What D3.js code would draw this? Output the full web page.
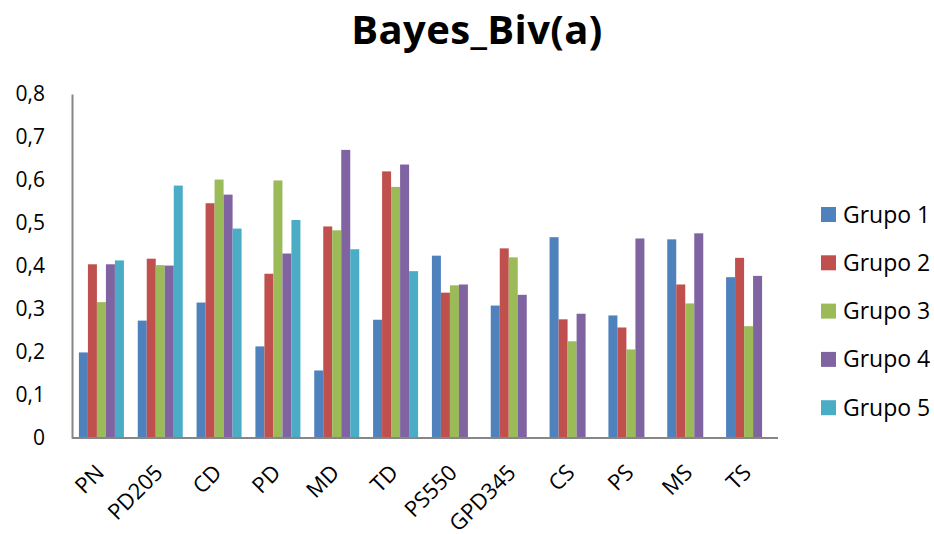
<!DOCTYPE html>
<html><head><meta charset="utf-8">
<script src="https://cdn.jsdelivr.net/npm/d3@7"></script>
<style>body{margin:0;background:#fff}text{font-family:"Open Sans","Noto Sans",sans-serif}</style>
</head><body><svg id="c" width="934" height="534"></svg>
<script>
const categories = ["PN","PD205","CD","PD","MD","TD","PS550","GPD345","CS","PS","MS","TS"];
const seriesNames = ["Grupo 1","Grupo 2","Grupo 3","Grupo 4","Grupo 5"];
const grupo1 = [0.199,0.273,0.315,0.213,0.157,0.275,0.424,0.308,0.467,0.285,0.462,0.374];
const grupo2 = [0.404,0.417,0.546,0.382,0.492,0.620,0.338,0.441,0.276,0.257,0.357,0.419];
const grupo3 = [0.316,0.402,0.601,0.599,0.483,0.584,0.355,0.420,0.225,0.206,0.313,0.260];
const grupo4 = [0.404,0.401,0.566,0.429,0.670,0.636,0.357,0.333,0.289,0.464,0.476,0.377];
const grupo5 = [0.413,0.587,0.487,0.507,0.439,0.388,null,null,null,null,null,null];
const yTicks = [0,0.1,0.2,0.3,0.4,0.5,0.6,0.7,0.8];
const colors = ["#4F81BD","#C0504D","#9BBB59","#8064A2","#4BACC6"];
const allSeries = [grupo1,grupo2,grupo3,grupo4,grupo5];

(function(){
const svg = d3.select("#c");
const mL = 72, mR = 778, mT = 94, mB = 438;
const x = d3.scaleBand().domain(categories).range([mL,mR]).paddingInner(0.235).paddingOuter(0.1175);
const xs = d3.scaleBand().domain(seriesNames).range([0,x.bandwidth()]);
const y = d3.scaleLinear().domain([0,0.8]).range([mB,mT]);

svg.append("text").attr("x",477).attr("y",44).attr("text-anchor","middle")
  .attr("font-size",40).attr("font-weight","bold").attr("letter-spacing",0.4).text("Bayes_Biv(a)");

const g = svg.append("g");
allSeries.forEach((vals,si)=>{
  g.selectAll(null).data(categories.map((c,i)=>({c,v:vals[i]})).filter(d=>d.v!=null))
   .enter().append("rect")
   .attr("x",d=>x(d.c)+xs(seriesNames[si]))
   .attr("width",xs.bandwidth())
   .attr("y",d=>y(d.v)).attr("height",d=>y(0)-y(d.v))
   .attr("fill",colors[si]);
});

const ya = d3.axisLeft(y).tickValues(yTicks).tickSize(0).tickPadding(27)
  .tickFormat(d=>d3.format(".1f")(d).replace(".",",").replace(/^0,0$/,"0"));
const yg = svg.append("g").attr("transform",`translate(${mL},0)`).call(ya);
yg.select(".domain").attr("stroke","#868686").attr("stroke-width",2);
yg.selectAll("text").attr("font-size",21).attr("fill","#000");

const xa = d3.axisBottom(x).tickSize(0).tickPadding(0);
const xg = svg.append("g").attr("transform",`translate(0,${mB})`).call(xa);
xg.select(".domain").attr("stroke","#868686").attr("stroke-width",2).attr("d",`M${mL},0H${mR}`);
xg.selectAll("text").attr("font-size",22).attr("fill","#000")
  .attr("text-anchor","end").attr("dy",null).attr("y",0)
  .attr("transform","translate(4,36) rotate(-45)");

const lg = svg.append("g");
seriesNames.forEach((n,i)=>{
  const yy = 207 + i*48.3;
  lg.append("rect").attr("x",821).attr("y",yy).attr("width",15).attr("height",15).attr("fill",colors[i]);
  lg.append("text").attr("x",843).attr("y",yy+15.5).attr("font-size",23).text(n);
});
})();
</script></body></html>
